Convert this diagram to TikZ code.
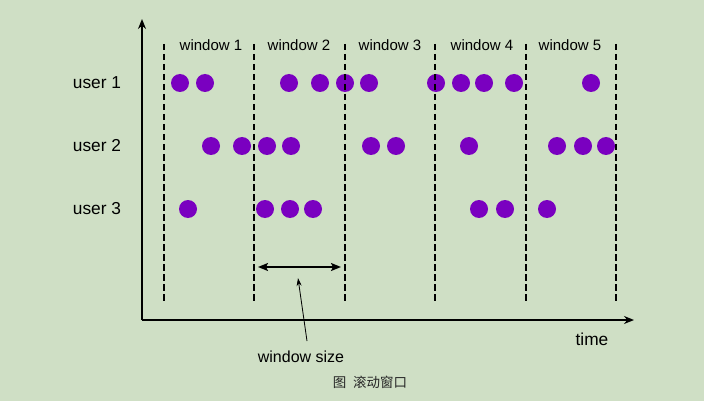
\documentclass[tikz,border=0pt]{standalone}
\usepackage{fontspec}
\setmainfont{Liberation Sans}
\newfontfamily\cjk{Noto Sans CJK SC}
\usetikzlibrary{arrows.meta}
\definecolor{bgcol}{RGB}{207,223,197}
\definecolor{evcol}{RGB}{122,0,192}
\tikzset{
  winline/.style={line width=1.9pt,dash pattern=on 6.5pt off 3.5pt},
  winlbl/.style={font=\fontsize{15}{17}\selectfont,inner sep=0pt},
  userlbl/.style={font=\fontsize{17.3}{19}\selectfont,inner sep=0pt},
  ev/.style={fill=evcol}
}
\begin{document}
\begin{tikzpicture}[x=1pt,y=-1pt,>={Stealth[length=10pt,width=8pt]}]
  \fill[bgcol](0,0)rectangle(704,401);
  \useasboundingbox(0,0)rectangle(704,401);
  % axes
  \coordinate(O)at(142,320);
  \coordinate(ytop)at(142,19);
  \coordinate(xend)at(634,320);
  \draw[line width=1.6pt,->](O)--(ytop);
  \draw[line width=1.6pt,->](O)--(xend);
  \node[userlbl](time)at(592,339){time};
  % events
  \foreach \x in {180,205,289,320,345,369,436,461,484,514,591}
    \fill[ev](\x,83)circle(9pt);
  \foreach \x in {211,242,267,291,371,396,469,557,583,606}
    \fill[ev](\x,146)circle(9pt);
  \foreach \x in {188,265,290,313,479,505,547}
    \fill[ev](\x,209)circle(9pt);
  % window borders
  \foreach \x in {164,254,345,435,526,616}
    \draw[winline](\x,44)--(\x,302);
  \foreach \i/\x in {1/211,2/299,3/390,4/482,5/570}
    \node[winlbl](w\i)at(\x,45){window \i};
  % users
  \foreach \i/\y in {1/83,2/146,3/209}
    \node[userlbl](u\i)at(97,\y){user \i};
  % window size
  \coordinate(sl)at(258,267);
  \coordinate(sr)at(341,267);
  \draw[line width=1.6pt,{Stealth[length=10pt,width=8pt,inset=2pt]}-{Stealth[length=10pt,width=8pt,inset=2pt]}](sl)--(sr);
  \node[winlbl,font=\fontsize{16}{18}\selectfont](ws)at(301,357){window size};
  \coordinate(pt)at(298,278);
  \coordinate(pb)at(307,341);
  \draw[line width=0.8pt,-{Stealth[length=8pt,width=5pt]}](pb)--(pt);
  \node[text=black!85](cap)at(370,382){\cjk\fontsize{13.5}{15}\selectfont 图\hspace{7pt}滚动窗口};
\end{tikzpicture}
\end{document}
